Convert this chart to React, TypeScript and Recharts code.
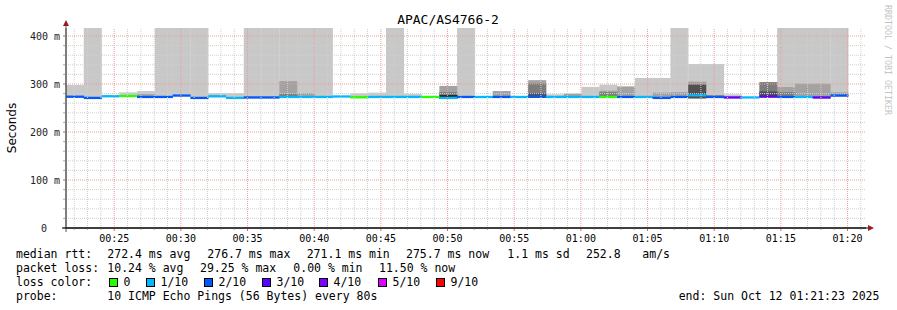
import React from "react";
import { ComposedChart, Bar, Cell, XAxis, YAxis, ReferenceLine } from "recharts";

// 60 minutes of 80s steps, ending 01:21:23
const START = 21 * 60 + 23;
const STEP = 80;
const END = START + 3600;

// median rtt per step (ms)
const median = [
  273.5, 271, 274.5, 275, 273, 273, 276, 271, 274.5, 271, 272, 272, 273, 273, 273, 274, 272.5, 273, 273, 273, 273, 271,
  273, 273, 273, 273, 274, 273, 273, 273, 273, 273, 273, 271, 273, 276.5, 273, 272, 272, 274, 273, 273, 272, 276,
];
// fastest ping per step
const pingMin = [
  271, 269, 272, 273, 271, 271, 274, 269, 272, 269, 270, 270, 271, 271, 271, 272, 270, 271, 271, 271, 271, 269,
  271, 271, 271, 271, 271, 271, 271, 271, 271, 271, 271, 269, 271, 270, 271, 270, 270, 272, 271, 271, 270, 274,
];
// smoke bands, outer (light) to inner (dark): top of each band
const smoke1 = [
  298, 500, null, 282.6, 285.4, 500, 500, 500, 281, 281, 500, 500, 500, 500, 500, null, 280.5, 282, 500, 279, null, null,
  500, null, null, null, null, 278.5, null, 294, 298.5, null, 312.5, 312.5, 500, 341.7, 341.7, 278.5, null, null, 500, 500, 500, 500,
];
const smoke2 = [
  null, null, null, null, 279, null, null, null, null, null, null, null, 306, 281, null, null, null, null, null, null, null, 296,
  null, null, 285.4, null, 308, null, 280, null, 286, 295, null, 282, 283, 305, null, null, null, null, 293.7, 300.7, 300.7, 282.6,
];
const smoke3 = [
  null, null, null, null, null, null, null, null, null, null, null, null, 279, null, null, null, null, null, null, null, null, 283,
  null, null, null, null, 301, null, null, null, 283, null, null, null, null, null, 276.5, null, null, 304, 283, null, null, null,
];
const smoke4 = [
  null, null, null, null, null, null, null, null, null, null, null, null, null, null, null, null, null, null, null, null, null, null,
  null, null, null, null, 280.6, null, null, null, null, null, null, null, null, 299, null, null, null, 284.7, null, null, null, null,
];
const smoke5 = [
  null, null, null, null, null, null, null, null, null, null, null, null, null, null, null, null, null, null, null, null, null, 277,
  null, null, null, null, null, null, null, null, null, null, null, null, null, null, null, null, null, null, null, null, null, null,
];
// lost pings out of 10
const lossCount = [
  2, 2, 1, 0, 2, 2, 2, 2, 1, 1, 2, 2, 1, 1, 1, 1, 0, 1, 1, 1, 0, 1, 2, 1, 2, 1, 2, 1, 1, 1, 0, 2, 1, 2, 2, 1, 2, 3, 1, 3, 2, 1, 3, 2,
];

const lossLabels = ["0", "1/10", "2/10", "3/10", "4/10", "5/10", "9/10"];
const lossColors = ["#26ff00", "#00b8ff", "#0059ff", "#5e00ff", "#7e00ff", "#dd00ff", "#ff0000"];
const smokeColors = ["#c8c8c8", "#a2a2a2", "#7c7c7c", "#505050", "#282828"];

const minuteTicks = Array.from({ length: 60 }, (_, i) => (22 + i) * 60);
const msTicks = Array.from({ length: 21 }, (_, i) => i * 20);

const data = Array.from({ length: 45 }, (_, i) => ({
  bin: START + i * STEP,
  med: median[i] ?? null,
  lo: pingMin[i] ?? null,
  s1: smoke1[i] ?? null,
  s2: smoke2[i] ?? null,
  s3: smoke3[i] ?? null,
  s4: smoke4[i] ?? null,
  s5: smoke5[i] ?? null,
  loss: lossCount[i] ?? 0,
}));

const MONO = "DejaVu Sans Mono";

const fmtTime = (s: number) => {
  const h = Math.floor(s / 3600);
  const m = Math.floor((s % 3600) / 60);
  return `${String(h).padStart(2, "0")}:${String(m).padStart(2, "0")}`;
};

function TimeTick({ x, y, payload }: any) {
  const major = payload.value % 300 === 0;
  return (
    <g>
      <line x1={x} x2={x} y1={y} y2={y + (major ? 3 : 2)} stroke={major ? "#e06060" : "#aaa"} />
      {major && (
        <text x={x} y={y + 13.5} textAnchor="middle" fontFamily={MONO} fontSize={10} fill="#000">
          {fmtTime(payload.value)}
        </text>
      )}
    </g>
  );
}

function MsTick({ x, y, payload }: any) {
  const v = payload.value;
  const major = v % 100 === 0;
  return (
    <g>
      <line x1={x - 3} x2={x} y1={y} y2={y} stroke={major ? "#e06060" : "#aaa"} />
      {major && (
        <text x={v === 0 ? x - 19 : x - 6} y={y + 3.5} textAnchor="end" fontFamily={MONO} fontSize={10} fill="#222">
          {v === 0 ? "0" : `${v} m`}
        </text>
      )}
    </g>
  );
}

const range = (key: string) => (d: any) => (d[key] == null ? null : [d.lo, d[key]]);

const legendRows = [
  { y: 258, parts: [[16, "median rtt:"], [107.3, "272.4 ms avg"], [207.3, "276.7 ms max"], [306.7, "271.1 ms min"], [406, "275.7 ms now"], [507.3, "1.1 ms sd"], [586, "252.8"], [642.3, "am/s"]] },
  { y: 272, parts: [[16, "packet loss:"], [107.3, "10.24 % avg"], [200, "29.25 % max"], [293.3, "0.00 % min"], [379, "11.50 % now"]] },
  { y: 286, parts: [[16, "loss color:"]] },
  { y: 300, parts: [[16, "probe:"], [107.3, "10 ICMP Echo Pings (56 Bytes) every 80s"], [678.7, "end: Sun Oct 12 01:21:23 2025"]] },
];
const lossBoxX = [109, 146, 204, 262, 319, 378, 436];

export default function App() {
  return (
    <div style={{ position: "absolute", left: 0, top: 0, width: 897, height: 310, background: "#fff" }}>
      <ComposedChart
        width={897}
        height={310}
        data={data}
        margin={{ top: 28, right: 31, left: 0, bottom: 0 }}
        barCategoryGap={0}
        barGap={0}
      >
        <XAxis
          dataKey="bin"
          type="number"
          domain={[START, END]}
          allowDataOverflow
          ticks={minuteTicks}
          interval={0}
          tick={<TimeTick />}
          tickLine={false}
          tickSize={0}
          tickMargin={0}
          axisLine={{ stroke: "#000" }}
          height={82}
        />
        {["s1", "s2", "s3", "s4", "s5", "m"].map((id) => (
          <XAxis key={id} xAxisId={id} dataKey="bin" type="category" hide />
        ))}
        <YAxis
          domain={[0, 416.67]}
          allowDataOverflow
          ticks={msTicks}
          interval={0}
          tick={<MsTick />}
          tickLine={false}
          tickSize={0}
          tickMargin={0}
          axisLine={{ stroke: "#555" }}
          width={66}
        />
        {["s1", "s2", "s3", "s4", "s5"].map((k, i) => (
          <Bar key={k} xAxisId={k} dataKey={range(k)} fill={smokeColors[i]} isAnimationActive={false} />
        ))}
        <Bar
          xAxisId="m"
          dataKey={(d: any) => (d.med == null ? null : [d.med - 2.4, d.med + 2.4])}
          isAnimationActive={false}
        >
          {data.map((d, i) => (
            <Cell key={i} fill={lossColors[Math.min(d.loss, 6)]} />
          ))}
        </Bar>
        {minuteTicks.map((t) => (
          <ReferenceLine
            key={"x" + t}
            x={t}
            stroke={t % 300 === 0 ? "#f09a9a" : "#cfcfcf"}
            strokeDasharray="1 1"
          />
        ))}
        {msTicks.slice(1).map((v) => (
          <ReferenceLine
            key={"y" + v}
            y={v}
            stroke={v % 100 === 0 ? "#f09a9a" : "#cfcfcf"}
            strokeDasharray="1 1"
          />
        ))}
      </ComposedChart>
      <svg width={897} height={310} style={{ position: "absolute", left: 0, top: 0, pointerEvents: "none" }}>
        <text x={448} y={24} textAnchor="middle" fontFamily={MONO} fontSize={13} fill="#000">
          APAC/AS4766-2
        </text>
        <text transform="translate(15.5,128) rotate(-90)" textAnchor="middle" fontFamily="DejaVu Sans" fontSize={12} fill="#000">
          Seconds
        </text>
        <text transform="translate(884.5,5) rotate(90)" fontFamily={MONO} fontSize={8.3} fill="#c4c4c4">
          RRDTOOL / TOBI OETIKER
        </text>
        <line x1={66} x2={66} y1={22} y2={232} stroke="#555" />
        <line x1={62} x2={868} y1={228} y2={228} stroke="#000" />
        <polygon points="63,26 69,26 66,20" fill="#9b1c1c" />
        <polygon points="868,225 868,231 874,228" fill="#9b1c1c" />
        {legendRows.map((row) =>
          row.parts.map(([x, t]) => (
            <text key={row.y + "-" + x} x={x as number} y={row.y} fontFamily={MONO} fontSize={11.5} fill="#000" style={{ whiteSpace: "pre" }}>
              {t}
            </text>
          ))
        )}
        {lossLabels.map((l, i) => (
          <g key={l}>
            <rect x={lossBoxX[i] + 0.5} y={278.5} width={8} height={8} fill={lossColors[i]} stroke="#000" />
            <text x={lossBoxX[i] + 14.5} y={286} fontFamily={MONO} fontSize={11.5} fill="#000">
              {l}
            </text>
          </g>
        ))}
      </svg>
    </div>
  );
}
